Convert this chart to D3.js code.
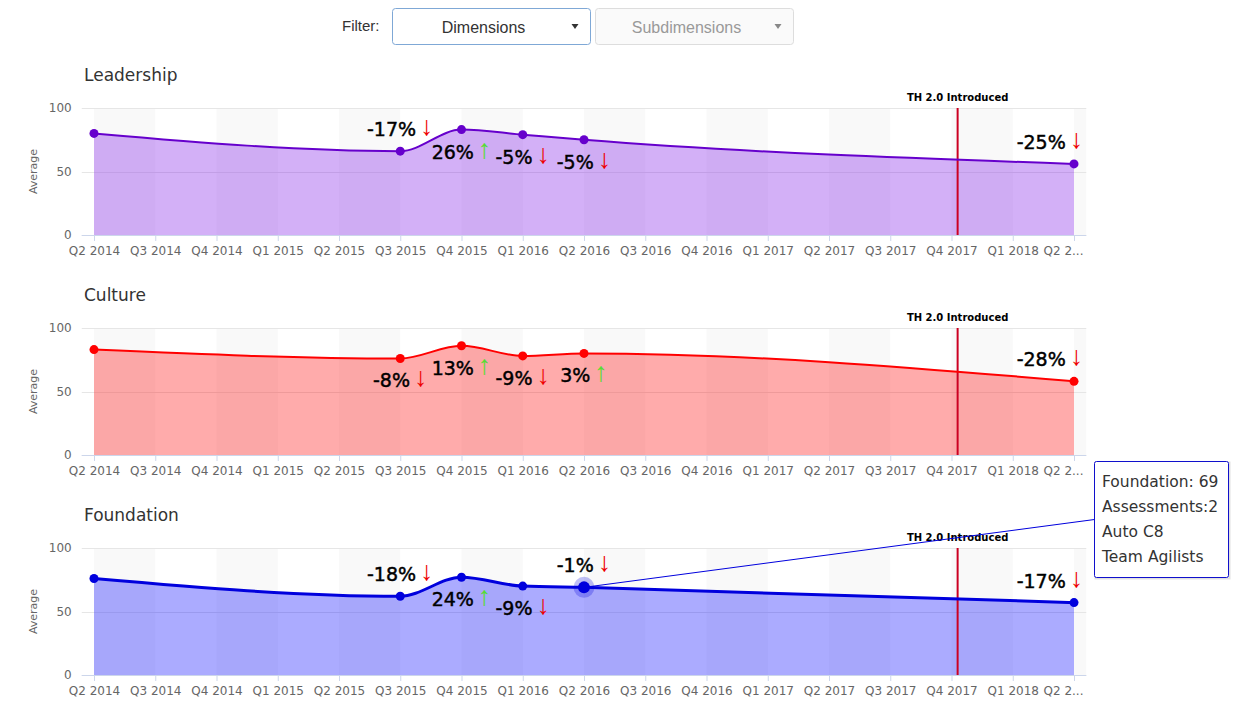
<!DOCTYPE html>
<html>
<head>
<meta charset="utf-8">
<script src="https://cdn.jsdelivr.net/npm/d3@7/dist/d3.min.js"></script>
<style>
  body { margin: 0; background: #fff; }
  svg text { font-family: "DejaVu Sans", Verdana, sans-serif; }
</style>
</head>
<body>
<script>
// quarters on the x axis
var quarters = ["Q2 2014", "Q3 2014", "Q4 2014", "Q1 2015", "Q2 2015", "Q3 2015", "Q4 2015",
  "Q1 2016", "Q2 2016", "Q3 2016", "Q4 2016", "Q1 2017", "Q2 2017", "Q3 2017", "Q4 2017",
  "Q1 2018", "Q2 2018"];

var panelNames = ["Leadership", "Culture", "Foundation"];

// averages per quarter (null = no assessment that quarter)
var leadership = [80, null, null, null, null, 66, 83, 79, 75, null, null, null, null, null, null, null, 56];
var culture    = [83, null, null, null, null, 76, 86, 78, 80, null, null, null, null, null, null, null, 58];
var foundation = [76, null, null, null, null, 62, 77, 70, 69, null, null, null, null, null, null, null, 57];

// change labels shown next to the points
var leadershipChange = [null, null, null, null, null, "-17%", "26%", "-5%", "-5%", null, null, null, null, null, null, null, "-25%"];
var cultureChange    = [null, null, null, null, null, "-8%", "13%", "-9%", "3%", null, null, null, null, null, null, null, "-28%"];
var foundationChange = [null, null, null, null, null, "-18%", "24%", "-9%", "-1%", null, null, null, null, null, null, null, "-17%"];

// which side of the point the change label sits on (1 above, -1 below)
var leadershipSide = [0, 0, 0, 0, 0, 1, -1, -1, -1, 0, 0, 0, 0, 0, 0, 0, 1];
var cultureSide    = [0, 0, 0, 0, 0, -1, -1, -1, -1, 0, 0, 0, 0, 0, 0, 0, 1];
var foundationSide = [0, 0, 0, 0, 0, 1, -1, -1, 1, 0, 0, 0, 0, 0, 0, 0, 1];

var yTicks = [0, 50, 100];

// plot line (category index) and label
var thIntroducedAt = 14.1;
var thLabel = "TH 2.0 Introduced";

// hovered point tooltip on the Foundation chart
var hoverIndex = 8;
var tooltipLines = ["Foundation: 69", "Assessments:2", "Auto C8", "Team Agilists"];

var series = [
  {values: leadership, change: leadershipChange, side: leadershipSide, line: "#6600cc", fill: "#7a10e6", width: 2},
  {values: culture, change: cultureChange, side: cultureSide, line: "#ff0000", fill: "#ff0000", width: 2},
  {values: foundation, change: foundationChange, side: foundationSide, line: "#0000dd", fill: "#0000ff", width: 3}
];

var width = 1249, height = 705;

var svg = d3.select("body").append("svg")
    .attr("width", width)
    .attr("height", height);

// ---- filter bar
var filter = svg.append("g");
filter.append("text")
    .attr("x", 342).attr("y", 31)
    .style("font-family", "'Liberation Sans', Arial, sans-serif")
    .style("font-size", "15px")
    .attr("fill", "#333")
    .text("Filter:");

var selects = [
  {x: 392.5, text: "Dimensions", stroke: "#7fa8d6", bg: "#fff", color: "#333", caret: "#333"},
  {x: 595.5, text: "Subdimensions", stroke: "#ddd", bg: "#fafafa", color: "#999", caret: "#888"}
];
selects.forEach(function(s) {
  filter.append("rect")
      .attr("x", s.x).attr("y", 8.5)
      .attr("width", 198).attr("height", 36)
      .attr("rx", 3)
      .attr("fill", s.bg)
      .attr("stroke", s.stroke);
  filter.append("text")
      .attr("x", s.x + 91).attr("y", 33)
      .attr("text-anchor", "middle")
      .style("font-family", "'Liberation Sans', Arial, sans-serif")
      .style("font-size", "16px")
      .attr("fill", s.color)
      .text(s.text);
  filter.append("path")
      .attr("d", "M" + (s.x + 179) + ",24 l7,0 l-3.5,5 z")
      .attr("fill", s.caret);
});

// ---- panels
var x = d3.scalePoint().domain(quarters).range([94, 1074]);
var step = x.step();
var plotLeft = x(quarters[0]) - 0.2 * step;
var plotRight = x(quarters[quarters.length - 1]) + 0.2 * step;

series.forEach(function(s, i) {
  var top = 108 + i * 220, bottom = top + 127;
  var y = d3.scaleLinear().domain([0, 100]).range([bottom, top]);
  var g = svg.append("g");

  g.append("text")
      .attr("x", 84).attr("y", top - 27)
      .style("font-size", "17px")
      .attr("fill", "#333")
      .text(panelNames[i]);

  // alternate bands
  quarters.forEach(function(q, k) {
    if (k % 2 != 0) return;
    var x0 = x(q);
    var x1 = k + 1 < quarters.length ? x(quarters[k + 1]) : plotRight;
    g.append("rect")
        .attr("x", x0).attr("y", top)
        .attr("width", x1 - x0).attr("height", bottom - top)
        .attr("fill", "#f9f9f9");
  });

  // grid lines
  g.selectAll(".grid").data(yTicks).enter().append("line")
      .attr("x1", plotLeft).attr("x2", plotRight)
      .attr("y1", function(d) { return Math.round(y(d)) + 0.5; })
      .attr("y2", function(d) { return Math.round(y(d)) + 0.5; })
      .attr("stroke", "#e6e6e6");

  // y axis labels
  var ya = g.append("g")
      .attr("transform", "translate(" + plotLeft + ",0)")
      .call(d3.axisLeft(y).tickValues(yTicks).tickSize(0).tickPadding(10).tickFormat(d3.format("d")));
  ya.select(".domain").remove();
  ya.selectAll("text")
      .style("font-family", "'DejaVu Sans', Verdana, sans-serif")
      .style("font-size", "12px")
      .attr("fill", "#666");

  g.append("text")
      .attr("transform", "translate(37," + ((top + bottom) / 2) + ") rotate(-90)")
      .attr("text-anchor", "middle")
      .style("font-size", "11px")
      .attr("fill", "#666")
      .text("Average");

  var pts = s.values.map(function(v, k) { return {q: quarters[k], v: v, k: k}; })
      .filter(function(d) { return d.v != null; });

  var area = d3.area()
      .x(function(d) { return x(d.q); })
      .y0(y(0))
      .y1(function(d) { return y(d.v); })
      .curve(d3.curveMonotoneX);

  var line = d3.line()
      .x(function(d) { return x(d.q); })
      .y(function(d) { return y(d.v); })
      .curve(d3.curveMonotoneX);

  g.append("path")
      .attr("d", area(pts))
      .attr("fill", s.fill)
      .attr("fill-opacity", 0.33);

  // TH 2.0 plot line
  var px = x(quarters[0]) + thIntroducedAt * step;
  g.append("line")
      .attr("x1", px).attr("x2", px)
      .attr("y1", top).attr("y2", bottom)
      .attr("stroke", "#cc0022")
      .attr("stroke-width", 2);
  g.append("text")
      .attr("x", px).attr("y", top - 7)
      .attr("text-anchor", "middle")
      .style("font-size", "10px")
      .style("font-weight", "bold")
      .attr("fill", "#000")
      .text(thLabel);

  g.append("path")
      .attr("d", line(pts))
      .attr("fill", "none")
      .attr("stroke", s.line)
      .attr("stroke-width", s.width);

  // x axis
  g.append("line")
      .attr("x1", plotLeft).attr("x2", plotRight)
      .attr("y1", bottom + 0.5).attr("y2", bottom + 0.5)
      .attr("stroke", "#ccd6eb");
  var xa = g.append("g")
      .attr("transform", "translate(0," + bottom + ")")
      .call(d3.axisBottom(x).tickSize(6).tickPadding(5));
  xa.select(".domain").remove();
  xa.selectAll("line").attr("stroke", "#ccd6eb");
  xa.selectAll("text")
      .style("font-family", "'DejaVu Sans', Verdana, sans-serif")
      .style("font-size", "12px")
      .attr("fill", "#666")
      .each(function(d) {
        // labels running past the chart edge get an ellipsis
        var t = d3.select(this);
        var w = this.getComputedTextLength();
        var limit = plotRight + 4;
        if (x(d) + w / 2 > limit) {
          var left = -31;
          t.attr("text-anchor", "start").attr("x", left);
          var txt = d;
          while (txt.length > 1 && x(d) + left + this.getComputedTextLength() > limit) {
            txt = txt.slice(0, -1);
            t.text(txt + "...");
          }
        }
      });

  // markers
  g.selectAll(".pt").data(pts).enter().append("circle")
      .attr("cx", function(d) { return x(d.q); })
      .attr("cy", function(d) { return y(d.v); })
      .attr("r", 4.5)
      .attr("fill", s.line);

  // change labels
  pts.forEach(function(d) {
    var c = s.change[d.k];
    if (!c) return;
    var down = c.charAt(0) == "-";
    var side = s.side[d.k];
    var t = g.append("text")
        .attr("x", x(d.q))
        .attr("y", y(d.v) + (side > 0 ? -15 : 29))
        .attr("text-anchor", "middle");
    t.append("tspan")
        .style("font-size", "19px")
        .attr("fill", "#000")
        .attr("stroke", "#000")
        .attr("stroke-width", 0.45)
        .text(c);
    t.append("tspan")
        .attr("dx", 4)
        .attr("dy", -1)
        .style("font-family", "'Liberation Sans', Arial, sans-serif")
        .style("font-size", "27px")
        .attr("fill", down ? "#ee0000" : "#55dd33")
        .text(down ? "\u2193" : "\u2191");
    var bb = t.node().getBBox();
    if (bb.x + bb.width > plotRight - 2) {
      t.attr("x", x(d.q) - (bb.x + bb.width - plotRight + 3));
    }
  });

  // hover state + tooltip on the last panel
  if (i == series.length - 1) {
    var hq = quarters[hoverIndex], hv = s.values[hoverIndex];
    var hx = x(hq), hy = y(hv);
    g.insert("circle", "circle")
        .attr("cx", hx).attr("cy", hy).attr("r", 10.5)
        .attr("fill", s.line).attr("fill-opacity", 0.25);
    g.append("circle")
        .attr("cx", hx).attr("cy", hy).attr("r", 6)
        .attr("fill", s.line);

    var tx = 1094.5, ty = 461.5, tw = 134, th = 116;
    g.append("line")
        .attr("x1", hx).attr("y1", hy)
        .attr("x2", tx).attr("y2", ty + 58)
        .attr("stroke", s.line)
        .attr("stroke-width", 1);
    g.append("rect")
        .attr("x", tx + 1).attr("y", ty + 1)
        .attr("width", tw).attr("height", th)
        .attr("fill", "none")
        .attr("stroke", "rgba(0,0,0,0.12)")
        .attr("stroke-width", 2);
    g.append("rect")
        .attr("x", tx).attr("y", ty)
        .attr("width", tw).attr("height", th)
        .attr("rx", 2)
        .attr("fill", "#fff")
        .attr("stroke", "#1010cc");
    g.selectAll(".tip").data(tooltipLines).enter().append("text")
        .attr("x", tx + 7.5)
        .attr("y", function(d, k) { return ty + 25 + k * 25; })
        .style("font-size", "15.5px")
        .attr("fill", "#333")
        .text(function(d) { return d; });
  }
});
</script>
</body>
</html>
